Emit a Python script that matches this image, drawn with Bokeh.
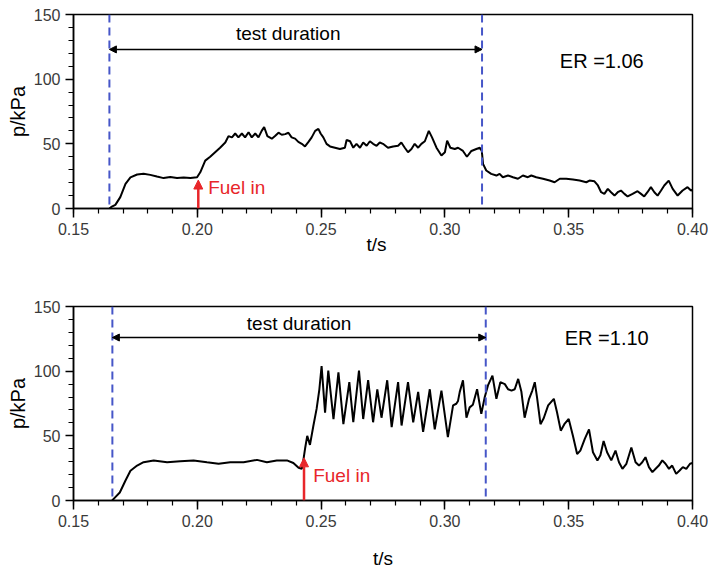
from bokeh.plotting import figure
from bokeh.layouts import column
from bokeh.models import (Range1d, FixedTicker, PrintfTickFormatter, Span, Arrow,
                          NormalHead, Label, Title)
from bokeh.embed import file_html
from bokeh.resources import INLINE

# ---------------- data ----------------
x_ticks = [0.15, 0.20, 0.25, 0.30, 0.35, 0.40]
x_minor = [round(0.15 + 0.01 * i, 2) for i in range(26)]
y_ticks = [0, 50, 100, 150]
y_minor = list(range(0, 151, 10))

# ER = 1.06
t_er106 = [0.1645, 0.1655, 0.1669, 0.1689, 0.1710, 0.1730, 0.1757, 0.1783, 0.1810, 0.1837,
           0.1864, 0.1891, 0.1918, 0.1945, 0.1972, 0.1999, 0.2012, 0.2032, 0.2052, 0.2072,
           0.2092, 0.2113, 0.2126, 0.2140, 0.2153, 0.2166, 0.2180, 0.2193, 0.2207, 0.2220,
           0.2234, 0.2247, 0.2260, 0.2270, 0.2283, 0.2301, 0.2314, 0.2328, 0.2341, 0.2355,
           0.2368, 0.2381, 0.2395, 0.2408, 0.2422, 0.2435, 0.2449, 0.2462, 0.2476, 0.2489,
           0.2498, 0.2509, 0.2522, 0.2536, 0.2556, 0.2576, 0.2596, 0.2603, 0.2617, 0.2630,
           0.2643, 0.2657, 0.2670, 0.2684, 0.2697, 0.2710, 0.2724, 0.2737, 0.2750, 0.2770,
           0.2791, 0.2811, 0.2824, 0.2838, 0.2851, 0.2865, 0.2878, 0.2892, 0.2905, 0.2919,
           0.2935, 0.2948, 0.2966, 0.2986, 0.3000, 0.3009, 0.3022, 0.3040, 0.3053, 0.3073,
           0.3089, 0.3107, 0.3127, 0.3141, 0.3149, 0.3154, 0.3167, 0.3187, 0.3208, 0.3221,
           0.3234, 0.3255, 0.3275, 0.3295, 0.3315, 0.3335, 0.3349, 0.3369, 0.3396, 0.3423,
           0.3443, 0.3464, 0.3490, 0.3517, 0.3544, 0.3571, 0.3584, 0.3604, 0.3618, 0.3631,
           0.3644, 0.3658, 0.3671, 0.3685, 0.3698, 0.3711, 0.3725, 0.3738, 0.3758, 0.3778,
           0.3792, 0.3805, 0.3818, 0.3832, 0.3846, 0.3859, 0.3873, 0.3886, 0.3904, 0.3920,
           0.3940, 0.3960, 0.3980, 0.3994, 0.4000]
p_er106 = [0, 1.5, 2.8, 8.8, 19, 24, 26.3, 26.8, 26, 24.7,
           23.5, 24.4, 23.5, 24, 23.5, 24.2, 28, 37, 40, 43.5,
           47, 51, 56, 55, 58, 55, 58, 55, 59, 55,
           58, 55, 60, 63, 56, 54, 56, 58.6, 57, 57.5,
           58.6, 55, 54, 51.5, 50, 48, 51.5, 55, 60, 61.6,
           58, 55, 50, 48, 47, 46, 47, 53, 52, 47,
           50, 47, 51, 48.5, 52, 50, 48.5, 51, 50, 47,
           48, 48.5, 51, 47, 43.5, 46, 50, 47, 50, 52,
           60, 55, 47, 41, 43.5, 52.5, 47, 46, 47, 44.5,
           40, 44.5, 46, 47, 44.5, 34.5, 29.4, 26.8, 25.5, 26.8,
           24.2, 25.5, 24.2, 23, 25.5, 24.2, 25.5, 24.2, 23, 21.6,
           20.3, 23, 23, 22.4, 21.6, 20.3, 21.6, 21, 17.8, 12.6,
           11.3, 15.2, 12.6, 10, 12.6, 13.9, 11.3, 9.3, 11.3, 13.4,
           11.3, 9.3, 12.6, 16.5, 12.6, 10, 13.9, 17.8, 21.6, 15.2,
           10, 13.9, 16.5, 13.9, 14.5]

# ER = 1.10
t_er110 = [0.1656, 0.1669, 0.1687, 0.1710, 0.1730, 0.1757, 0.1783, 0.1824, 0.1878, 0.1931,
           0.1985, 0.2039, 0.2086, 0.2133, 0.2187, 0.2241, 0.2281, 0.2321, 0.2362, 0.2388,
           0.2409, 0.2422, 0.2429, 0.2436, 0.2444, 0.2455, 0.2469, 0.2482, 0.2493, 0.2502,
           0.2516, 0.2529, 0.2550, 0.2570, 0.2590, 0.2614, 0.2630, 0.2653, 0.2670, 0.2690,
           0.2710, 0.2727, 0.2744, 0.2767, 0.2785, 0.2811, 0.2825, 0.2851, 0.2872, 0.2892,
           0.2912, 0.2939, 0.2959, 0.2986, 0.3012, 0.3033, 0.3046, 0.3053, 0.3060, 0.3073,
           0.3087, 0.3100, 0.3113, 0.3130, 0.3147, 0.3161, 0.3174, 0.3192, 0.3208, 0.3224,
           0.3242, 0.3255, 0.3269, 0.3282, 0.3296, 0.3309, 0.3322, 0.3340, 0.3353, 0.3363,
           0.3372, 0.3386, 0.3399, 0.3417, 0.3440, 0.3453, 0.3468, 0.3484, 0.3500, 0.3517,
           0.3534, 0.3547, 0.3565, 0.3582, 0.3598, 0.3616, 0.3628, 0.3641, 0.3655, 0.3672,
           0.3689, 0.3703, 0.3717, 0.3733, 0.3753, 0.3770, 0.3784, 0.3797, 0.3810, 0.3824,
           0.3838, 0.3851, 0.3864, 0.3878, 0.3891, 0.3905, 0.3918, 0.3934, 0.3948, 0.3961,
           0.3975, 0.3990, 0.4000]
p_er110 = [0, 2.6, 6.2, 15.5, 23, 27, 29.6, 31, 29.6, 30.4,
           31, 29.6, 28.4, 29.6, 29.6, 31.4, 29.6, 31, 31, 29,
           25.3, 24.5, 32, 41, 50, 43, 58, 71, 86, 104,
           68, 100.5, 63, 99, 59, 91.5, 60.5, 100.5, 63, 93,
           60.5, 86, 64, 93, 56.7, 91.5, 58, 91.5, 60.5, 84,
           53, 86, 55, 85, 49, 73.5, 74.8, 77, 84, 93,
           64, 72, 74, 86, 67, 80, 89, 96.6, 78.6, 91.5,
           90, 86, 85, 86, 94, 84, 64, 78.6, 85, 91.5,
           80, 59, 63.6, 73.5, 78.6, 68, 54, 59.5, 63, 50,
           36, 38.6, 47.7, 55, 37.3, 31, 35, 46, 37.3, 31,
           38.6, 29.6, 24.5, 28.4, 41, 29.6, 27, 29.6, 33.5, 25.8,
           21.9, 24.5, 27, 31, 28.4, 24.5, 27, 20.6, 23.2, 25.8,
           24.5, 28.4, 29]

panels = [
    dict(t=t_er106, p=p_er106, er_text="ER =1.06", t_start=0.1645, t_end=0.315,
         arrow_y=123, dur_x=0.2367, dur_y=135, er_x=0.3464, er_y=114,
         fuel_t=0.2004, fuel_top=22, fuel_x=0.2044, fuel_y=16),
    dict(t=t_er110, p=p_er110, er_text="ER =1.10", t_start=0.1657, t_end=0.3165,
         arrow_y=126, dur_x=0.2411, dur_y=137, er_x=0.3484, er_y=126,
         fuel_t=0.2431, fuel_top=33, fuel_x=0.2468, fuel_y=19),
]

FONT = "Liberation Sans"
BLUE = "#4656c8"
RED = "#e8262a"


def make_panel(d, height, top, bottom):
    p = figure(width=708, height=height, x_range=Range1d(0.15, 0.40), y_range=Range1d(0, 150),
               output_backend="svg", toolbar_location=None,
               min_border_left=73, min_border_right=16, min_border_top=top, min_border_bottom=bottom)
    p.xgrid.visible = False
    p.ygrid.visible = False
    p.outline_line_color = "black"
    p.outline_line_width = 1.5
    p.outline_line_alpha = 1

    for ax in (p.xaxis[0], p.yaxis[0]):
        ax.axis_line_width = 1.5
        ax.axis_line_color = "black"
        ax.major_tick_line_width = 1.5
        ax.major_tick_line_color = "black"
        ax.minor_tick_line_width = 1.2
        ax.minor_tick_line_color = "black"
        ax.major_tick_in = 0
        ax.minor_tick_in = 0
        ax.major_label_text_font = FONT
        ax.major_label_text_font_size = "16px"
        ax.major_label_text_color = "#3a3a3a"
        ax.axis_label_text_font = FONT
        ax.axis_label_text_font_style = "normal"
        ax.axis_label_text_color = "black"
    p.xaxis[0].ticker = FixedTicker(ticks=x_ticks, minor_ticks=x_minor)
    p.xaxis[0].formatter = PrintfTickFormatter(format="%.2f")
    p.xaxis[0].major_tick_out = 9
    p.xaxis[0].minor_tick_out = 5
    p.xaxis[0].major_label_standoff = 5
    p.yaxis[0].ticker = FixedTicker(ticks=y_ticks, minor_ticks=y_minor)
    p.yaxis[0].major_tick_out = 8
    p.yaxis[0].minor_tick_out = 5
    p.yaxis[0].major_label_standoff = 5
    p.yaxis[0].axis_label = "p/kPa"
    p.yaxis[0].axis_label_text_font_size = "20px"
    p.yaxis[0].axis_label_standoff = 2

    p.line(d["t"], d["p"], line_color="black", line_width=2)

    for loc in (d["t_start"], d["t_end"]):
        p.add_layout(Span(location=loc, dimension="height", line_color=BLUE,
                          line_dash="8 5", line_width=2))

    p.add_layout(Arrow(start=NormalHead(size=7, fill_color="black", line_color="black"),
                       end=NormalHead(size=7, fill_color="black", line_color="black"),
                       x_start=d["t_start"], y_start=d["arrow_y"],
                       x_end=d["t_end"], y_end=d["arrow_y"],
                       line_color="black", line_width=1.5))
    p.add_layout(Arrow(end=NormalHead(size=9, fill_color=RED, line_color=RED),
                       x_start=d["fuel_t"], y_start=0, x_end=d["fuel_t"], y_end=d["fuel_top"],
                       line_color=RED, line_width=2.5))

    p.add_layout(Label(x=d["dur_x"], y=d["dur_y"], text="test duration", text_align="center",
                       text_baseline="middle", text_font=FONT, text_font_size="19px",
                       text_color="black"))
    p.add_layout(Label(x=d["er_x"], y=d["er_y"], text=d["er_text"], text_align="left",
                       text_baseline="middle", text_font=FONT, text_font_size="20px",
                       text_color="black"))
    p.add_layout(Label(x=d["fuel_x"], y=d["fuel_y"], text="Fuel in", text_align="left",
                       text_baseline="middle", text_font=FONT, text_font_size="19px",
                       text_color=RED))
    return p


p_top = make_panel(panels[0], 278, 14, 70)
p_top.add_layout(Title(text="t/s", align="left", offset=293, standoff=-12,
                       text_font=FONT, text_font_size="19px", text_font_style="normal",
                       text_color="black"), "below")

p_bot = make_panel(panels[1], 295, 28, 73)
p_bot.xaxis[0].axis_label = "t/s"
p_bot.xaxis[0].axis_label_text_font_size = "19px"
p_bot.xaxis[0].axis_label_standoff = 18

layout = column(p_top, p_bot, spacing=0)
open("out.html", "w").write(file_html(layout, INLINE))
